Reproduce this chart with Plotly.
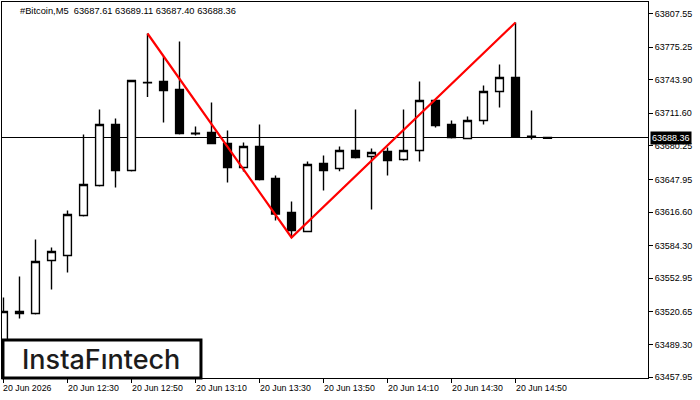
import plotly.graph_objects as go

# ---- data ----
times = [
    "2026-06-20 12:10", "2026-06-20 12:15", "2026-06-20 12:20", "2026-06-20 12:25",
    "2026-06-20 12:30", "2026-06-20 12:35", "2026-06-20 12:40", "2026-06-20 12:45",
    "2026-06-20 12:50", "2026-06-20 12:55", "2026-06-20 13:00", "2026-06-20 13:05",
    "2026-06-20 13:10", "2026-06-20 13:15", "2026-06-20 13:20", "2026-06-20 13:25",
    "2026-06-20 13:30", "2026-06-20 13:35", "2026-06-20 13:40", "2026-06-20 13:45",
    "2026-06-20 13:50", "2026-06-20 13:55", "2026-06-20 14:00", "2026-06-20 14:05",
    "2026-06-20 14:10", "2026-06-20 14:15", "2026-06-20 14:20", "2026-06-20 14:25",
    "2026-06-20 14:30", "2026-06-20 14:35", "2026-06-20 14:40", "2026-06-20 14:45",
    "2026-06-20 14:50", "2026-06-20 14:55", "2026-06-20 15:00",
]
open_ = [63488.36, 63521.06, 63519.14, 63570.10, 63574.90, 63613.36, 63642.21, 63700.86,
         63656.63, 63741.40, 63742.21, 63734.51, 63692.40, 63693.17, 63682.59, 63659.51,
         63679.71, 63648.94, 63616.25, 63597.98, 63663.36, 63658.55, 63675.86, 63670.09,
         63674.90, 63667.21, 63675.86, 63723.94, 63700.86, 63687.40, 63704.71, 63732.59,
         63746.05, 63689.60, 63687.61]
high = [63534.52, 63554.71, 63590.29, 63582.59, 63618.17, 63691.24, 63715.28, 63706.63,
        63743.50, 63788.36, 63766.24, 63780.66, 63698.94, 63722.01, 63695.09, 63683.55,
        63700.86, 63651.82, 63626.82, 63665.28, 63671.05, 63679.71, 63715.28, 63677.78,
        63678.74, 63715.28, 63742.21, 63724.20, 63704.71, 63708.55, 63738.36, 63758.55,
        63798.94, 63714.32, 63689.11]
low = [63483.55, 63514.33, 63518.17, 63542.21, 63558.56, 63612.40, 63641.25, 63640.28,
       63655.67, 63727.30, 63702.78, 63691.24, 63690.28, 63682.00, 63645.09, 63655.67,
       63647.00, 63608.55, 63592.21, 63597.50, 63637.40, 63656.00, 63668.17, 63619.13,
       63651.82, 63666.00, 63665.28, 63697.98, 63687.40, 63687.00, 63700.86, 63717.21,
       63689.00, 63686.44, 63687.40]
close = [63521.06, 63519.14, 63569.13, 63578.75, 63614.32, 63643.17, 63700.86, 63656.63,
         63743.17, 63741.00, 63733.55, 63692.21, 63692.00, 63682.59, 63659.51, 63679.71,
         63647.98, 63614.80, 63598.94, 63662.40, 63656.63, 63675.86, 63669.13, 63673.94,
         63666.25, 63675.86, 63723.94, 63699.90, 63688.36, 63704.71, 63732.59, 63746.05,
         63689.32, 63689.30, 63688.36]

pattern_idx = [9, 18, 32]          # top - bottom - top of the pattern
pattern_kind = ["high", "low", "high"]

y_ticks = [63457.95, 63489.30, 63520.65, 63552.95, 63584.30, 63616.60, 63647.95,
           63680.25, 63711.60, 63743.90, 63775.25, 63807.55]
y_tick_text = ["63457.95", "63489.30", "63520.65", "63552.95", "63584.30", "63616.60",
               "63647.95", "63680.25", "63711.60", "63743.90", "63775.25", "63807.55"]
x_tick_times = ["2026-06-20 12:10", "2026-06-20 12:30", "2026-06-20 12:50",
                "2026-06-20 13:10", "2026-06-20 13:30", "2026-06-20 13:50",
                "2026-06-20 14:10", "2026-06-20 14:30", "2026-06-20 14:50"]
x_tick_text = ["20 Jun 2026", "20 Jun 12:30", "20 Jun 12:50", "20 Jun 13:10",
               "20 Jun 13:30", "20 Jun 13:50", "20 Jun 14:10", "20 Jun 14:30",
               "20 Jun 14:50"]

symbol = "#Bitcoin,M5"
last_price = close[-1]

FONT = "Liberation Sans, Arial, sans-serif"

fig = go.Figure()
fig.add_trace(go.Candlestick(
    x=times, open=open_, high=high, low=low, close=close,
    increasing=dict(fillcolor="white", line=dict(color="black", width=1.4)),
    decreasing=dict(fillcolor="black", line=dict(color="black", width=1.4)),
    whiskerwidth=0, showlegend=False, hoverinfo="skip",
))

pat_x = [times[i] for i in pattern_idx]
pat_y = [high[i] if k == "high" else low[i] for i, k in zip(pattern_idx, pattern_kind)]
fig.add_trace(go.Scatter(x=pat_x, y=pat_y, mode="lines",
                         line=dict(color="#ff0000", width=2.2),
                         showlegend=False, hoverinfo="skip"))

# current price line
fig.add_shape(type="line", xref="paper", x0=0, x1=1, yref="y", y0=last_price, y1=last_price,
              line=dict(color="black", width=1.2), layer="below")

# logo box
fig.add_shape(type="rect", xref="paper", yref="paper", x0=0.0015, x1=0.308, y0=0.0, y1=0.101,
              fillcolor="white", line=dict(color="black", width=3), layer="above")
fig.add_annotation(xref="paper", yref="paper", x=0.153, y=0.0505, text="InstaFıntech",
                   showarrow=False, xanchor="center", yanchor="middle",
                   font=dict(family="Inter, Lato, sans-serif", size=27, color="#1c1c1c", weight=500))

# title
fig.add_annotation(xref="paper", yref="paper", x=0.0248, y=1, yshift=-2,
                   text=f"{symbol}  {open_[-1]:.2f} {high[-1]:.2f} {low[-1]:.2f} {close[-1]:.2f}",
                   showarrow=False, xanchor="left", yanchor="top",
                   font=dict(family=FONT, size=9.3, color="black"))

# x tick labels (left aligned at the tick, like the terminal)
for t, lab in zip(x_tick_times, x_tick_text):
    fig.add_annotation(x=t, xref="x", y=0, yref="paper", yanchor="top", xanchor="left",
                       yshift=-3, xshift=-2, text=lab, showarrow=False,
                       font=dict(family=FONT, size=8.8, color="black"))

# price label
fig.add_annotation(xref="paper", x=1, y=last_price, yref="y", xanchor="left", yanchor="middle",
                   xshift=2, text=f"{last_price:.2f}", showarrow=False, bgcolor="black",
                   borderpad=1, font=dict(family=FONT, size=9, color="white"))

fig.update_layout(
    width=700, height=400,
    margin=dict(l=2, r=52, t=2, b=22),
    paper_bgcolor="white", plot_bgcolor="white",
    showlegend=False,
    xaxis=dict(type="date", range=["2026-06-20 12:09:32", "2026-06-20 15:31:24"],
               rangeslider=dict(visible=False), showgrid=False, zeroline=False,
               showline=True, linecolor="black", linewidth=1, mirror=True,
               tickvals=x_tick_times, ticks="outside", ticklen=4, tickcolor="black",
               showticklabels=False),
    yaxis=dict(side="right", range=[63457.11, 63818.65], showgrid=False, zeroline=False,
               showline=True, linecolor="black", linewidth=1, mirror=True,
               tickvals=y_ticks, ticktext=y_tick_text, ticks="outside", ticklen=4,
               tickcolor="black", tickfont=dict(family=FONT, size=9, color="black")),
)

fig.write_html("out.html")
